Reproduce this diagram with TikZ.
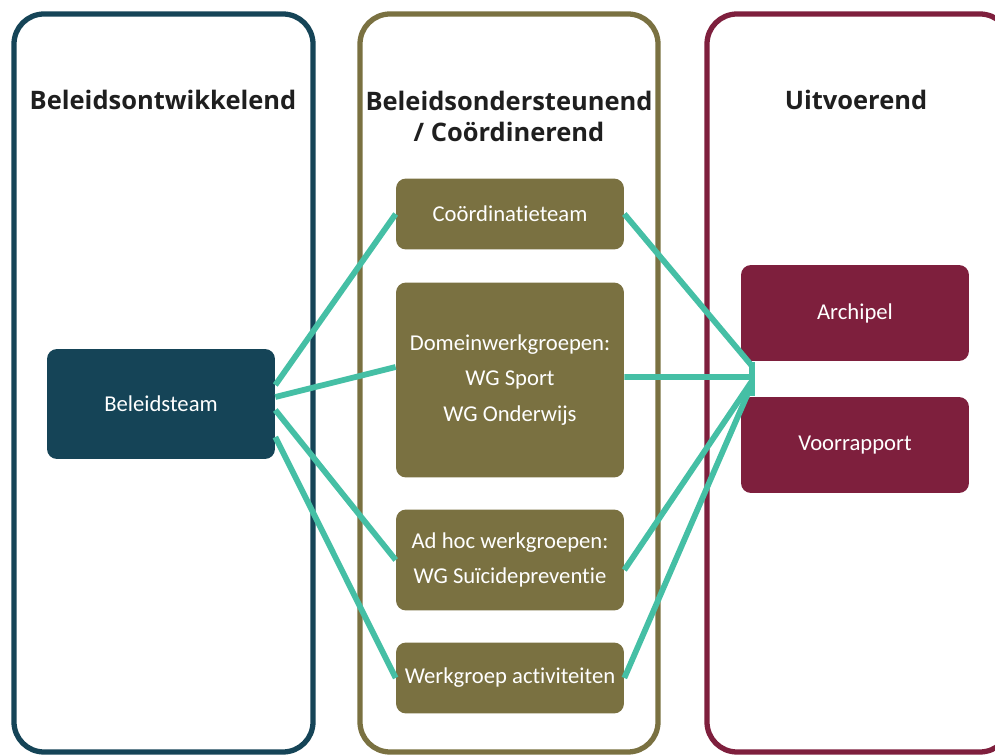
\documentclass[tikz,border=0pt]{standalone}
\usepackage{fontspec}
\setmainfont[Ligatures=NoCommon]{Carlito}
\newfontfamily\kopfont{Open Sans}
\usetikzlibrary{positioning}
\definecolor{petrol}{HTML}{154457}
\definecolor{olijf}{HTML}{7A7141}
\definecolor{bordeaux}{HTML}{7E1F3D}
\definecolor{munt}{HTML}{45BFA5}

\begin{document}
\begin{tikzpicture}[x=0.02cm, y=-0.02cm,
    kolom/.style={draw=#1, line width=3pt, rounded corners=0.6cm},
    kop/.style={font=\kopfont\bfseries\fontsize{14.5}{17.6}\selectfont, align=center, text=black!88},
    blok/.style={fill=#1, rounded corners=0.2cm, text=white, align=center, minimum width=4.56cm, font=\fontsize{12.9}{20}\selectfont},
    lijn/.style={draw=munt, line width=3.3pt}]
  \useasboundingbox (0,0) rectangle (995,756);
  % kolommen
  \draw[kolom=petrol] (14,14) rectangle (313,752);
  \draw[kolom=olijf] (360,14) rectangle (658,752);
  \draw[kolom=bordeaux] (707,14) rectangle (1010,752);
  \node[kop] (kop1) at (163,100) {Beleidsontwikkelend};
  \node[kop] (kop2) at (509,116) {Beleidsondersteunend\\/ Coördinerend};
  \node[kop] (kop3) at (856,100) {Uitvoerend};
  % blokken
  \node[blok=petrol, minimum height=2.2cm] (beleid) at (161,404) {Beleidsteam};
  \node[blok=olijf, minimum height=1.42cm] (coord) at (510,214) {Coördinatieteam};
  \node[blok=olijf, minimum height=3.9cm] (domein) at (510,380) {Domeinwerkgroepen:\\WG Sport\\WG Onderwijs};
  \node[blok=olijf, minimum height=2.02cm] (adhoc) at (510,560) {Ad hoc werkgroepen:\\WG Suïcidepreventie};
  \node[blok=olijf, minimum height=1.42cm] (werk) at (510,678) {Werkgroep activiteiten};
  \node[blok=bordeaux, minimum height=1.92cm] (archipel) at (855,313) {Archipel};
  \node[blok=bordeaux, minimum height=1.92cm] (voorrapport) at (855,445) {Voorrapport};
  % verbindingen
  \coordinate (hub) at (752,377);
  \coordinate (hubboven) at (752,362);
  \coordinate (hubonder) at (752,396);
  \draw[lijn] ([yshift=0.38cm]beleid.east) -- (coord.west);
  \draw[lijn] ([yshift=0.14cm]beleid.east) -- ([yshift=0.26cm]domein.west);
  \draw[lijn] ([yshift=-0.12cm]beleid.east) -- (adhoc.west);
  \draw[lijn] ([yshift=-0.66cm]beleid.east) -- (werk.west);
  \draw[lijn] (coord.east) -- ([yshift=0.22cm]hub);
  \draw[lijn] ([yshift=0.06cm]domein.east) -- (hub);
  \draw[lijn] ([yshift=-0.2cm]adhoc.east) -- ([yshift=-0.08cm]hub);
  \draw[lijn] (werk.east) -- ([yshift=-0.14cm]hub);
  \draw[lijn] (hubboven) -- (hubonder);
\end{tikzpicture}
\end{document}
